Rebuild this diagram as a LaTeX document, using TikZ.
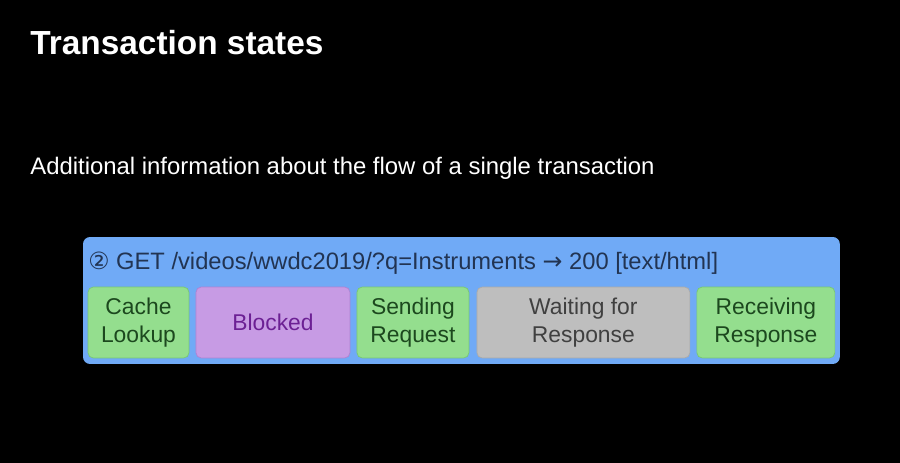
\documentclass[tikz,border=0pt]{standalone}
\usepackage{fontspec}
\setmainfont{Liberation Sans}
\newfontfamily\symfont{DejaVu Sans}
\usetikzlibrary{positioning}

\definecolor{slideblue}{RGB}{112,170,246}
\definecolor{headtext}{RGB}{34,52,82}
\definecolor{okfill}{RGB}{148,222,142}
\definecolor{okline}{RGB}{120,200,115}
\definecolor{oktext}{RGB}{28,72,30}
\definecolor{blkfill}{RGB}{199,155,228}
\definecolor{blkline}{RGB}{175,130,210}
\definecolor{blktext}{RGB}{108,32,148}
\definecolor{waitfill}{RGB}{190,190,190}
\definecolor{waitline}{RGB}{170,170,170}
\definecolor{waittext}{RGB}{64,64,64}

\begin{document}
\begin{tikzpicture}[
    x=0.02cm, y=-0.02cm,
    state/.style={rounded corners=3pt, line width=0.4pt, outer sep=0pt, inner sep=0pt,
                  minimum height=1.42cm, align=center,
                  font=\fontsize{13}{15.9}\selectfont},
    ok/.style={state, fill=okfill, draw=okline, text=oktext},
    blk/.style={state, fill=blkfill, draw=blkline, text=blktext},
    wait/.style={state, fill=waitfill, draw=waitline, text=waittext},
    title/.style={anchor=base west, text=white, inner sep=0pt},
]
    % background and margins
    \fill[black] (0,0) rectangle (900,463);
    \useasboundingbox (0,0) rectangle (900,463);

    % headings
    \node[title, font=\fontsize{19}{23}\selectfont\bfseries] (head) at (30,54)
        {Transaction states};
    \node[title, font=\fontsize{13.6}{17}\selectfont] (sub) at (30,174)
        {Additional information about the flow of a single transaction};

    % transaction bar
    \node[fill=slideblue, rounded corners=4pt, outer sep=0pt, anchor=north west,
          minimum width=15.14cm, minimum height=2.54cm] (bar) at (83,237) {};
    \node[anchor=base west, inner sep=0pt, text=headtext,
          font=\fontsize{13.5}{16}\selectfont] (req) at (88,269)
        {{\symfont ②} GET /videos/wwdc2019/?q=Instruments {\symfont →} 200 [text/html]};

    % states
    \node[ok, anchor=north west, minimum width=2.02cm] (cache) at (88,287) {Cache\\Lookup};
    \node[blk, right=0.14cm of cache, minimum width=3.08cm] (blocked) {Blocked};
    \node[ok, right=0.14cm of blocked, minimum width=2.24cm] (send) {Sending\\Request};
    \node[wait, right=0.16cm of send, minimum width=4.26cm] (waiting) {Waiting for\\Response};
    \node[ok, right=0.14cm of waiting, minimum width=2.76cm] (recv) {Receiving\\Response};

\end{tikzpicture}
\end{document}
